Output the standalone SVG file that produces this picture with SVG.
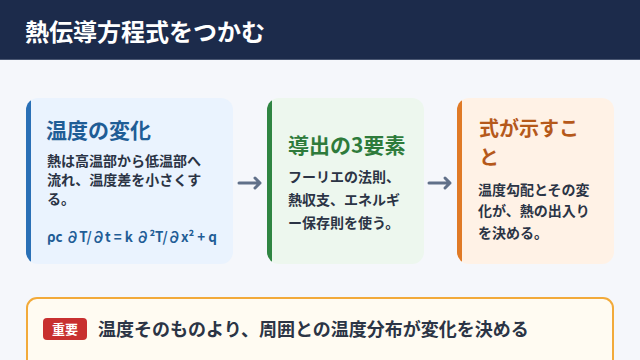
<svg xmlns="http://www.w3.org/2000/svg" width="640" height="360" viewBox="0 0 640 360">
<defs>
<style>
.t{font-family:"Noto Sans CJK JP","Noto Sans",sans-serif;font-weight:700}
.body{font-size:14px;fill:#2b3445}
.ttl{font-size:21px}
.conn{stroke:#607089;stroke-width:3;fill:none;stroke-linecap:round;stroke-linejoin:round}
</style>
<clipPath id="c1"><rect x="26" y="98" width="207" height="166" rx="12"/></clipPath>
<clipPath id="c2"><rect x="267" y="98" width="157" height="166" rx="12"/></clipPath>
<clipPath id="c3"><rect x="457" y="98" width="157" height="166" rx="12"/></clipPath>
</defs>
<rect width="640" height="360" fill="#f5f7fb"/>
<g id="header">
<rect width="640" height="59" fill="#1c2b4b"/>
<rect y="59" width="640" height="1" fill="#4a5772"/>
<text class="t" x="25" y="41" font-size="24" fill="#ffffff">熱伝導方程式をつかむ</text>
</g>
<g id="card1">
<rect x="26" y="98" width="207" height="166" rx="12" fill="#eaf3fe"/>
<rect x="26" y="98" width="5" height="166" fill="#2a70b6" clip-path="url(#c1)"/>
<text class="t ttl" x="46" y="138" fill="#1f5d96">温度の変化</text>
<text class="t body" x="47" y="166" font-size="13.5">熱は高温部から低温部へ</text>
<text class="t body" x="47" y="185" font-size="13.5">流れ、温度差を小さくす</text>
<text class="t body" x="47" y="204" font-size="13.5">る。</text>
<text class="t" x="47" y="242" font-size="14" fill="#1f5d96" textLength="170" lengthAdjust="spacingAndGlyphs">ρc ∂T/∂t = k ∂²T/∂x² + q</text>
</g>
<g id="card2">
<rect x="267" y="98" width="157" height="166" rx="12" fill="#edf7ee"/>
<rect x="267" y="98" width="5" height="166" fill="#2f8542" clip-path="url(#c2)"/>
<text class="t ttl" x="288" y="153" fill="#2e7b3b">導出の3要素</text>
<text class="t body" x="288" y="182">フーリエの法則、</text>
<text class="t body" x="288" y="205">熱収支、エネルギ</text>
<text class="t body" x="288" y="228">ー保存則を使う。</text>
</g>
<g id="card3">
<rect x="457" y="98" width="157" height="166" rx="12" fill="#fff2e6"/>
<rect x="457" y="98" width="5" height="166" fill="#e07a26" clip-path="url(#c3)"/>
<text class="t" x="479" y="136" font-size="20" fill="#b5591b">式が示すこ</text>
<text class="t" x="479" y="165" font-size="20" fill="#b5591b">と</text>
<text class="t body" x="478" y="195">温度勾配とその変</text>
<text class="t body" x="478" y="216">化が、熱の出入り</text>
<text class="t body" x="478" y="238">を決める。</text>
</g>
<g id="connectors">
<path class="conn" d="M239 183 H260 M255 178 L260 183 L255 188"/>
<path class="conn" d="M429 183 H450 M445 178 L450 183 L445 188"/>
</g>
<g id="note">
<rect x="27" y="298" width="586" height="80" rx="10" fill="#fffbf2" stroke="#f2aa3a" stroke-width="2"/>
<rect x="43" y="318" width="44" height="22" rx="4" fill="#c83030"/>
<text class="t" x="65" y="334" font-size="13" fill="#ffffff" text-anchor="middle">重要</text>
<text class="t" x="98" y="336" font-size="18" fill="#2b3445">温度そのものより、周囲との温度分布が変化を決める</text>
</g>
</svg>
